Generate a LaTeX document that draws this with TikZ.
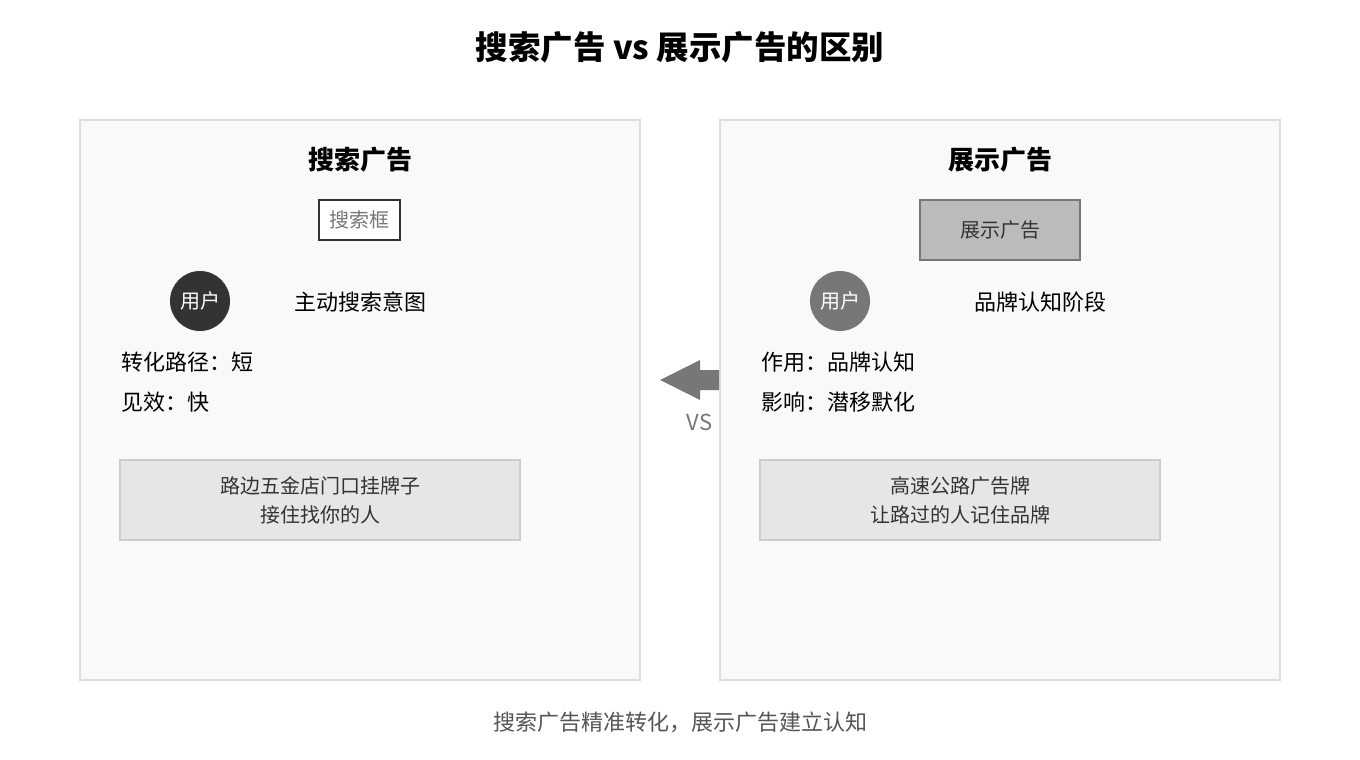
\documentclass[tikz,border=0pt]{standalone}
\usepackage{fontspec}
\setmainfont{Noto Sans CJK SC}
\usetikzlibrary{positioning}

\definecolor{panelfill}{HTML}{F9F9F9}
\definecolor{panelline}{HTML}{DDDDDD}
\definecolor{notefill}{HTML}{E6E6E6}
\definecolor{noteline}{HTML}{CCCCCC}
\definecolor{darkgray}{HTML}{333333}
\definecolor{midgray}{HTML}{777777}
\definecolor{adfill}{HTML}{BBBBBB}
\definecolor{capgray}{HTML}{555555}

\begin{document}
\begin{tikzpicture}[x=1pt,y=-1pt]
	\useasboundingbox[fill=white] (0,0) rectangle (1360,760);

	\node[font=\fontsize{32.5}{38}\selectfont\bfseries] (title) at (680,47) {搜索广告 vs 展示广告的区别};

	% panels
	\begin{scope}[every path/.style={fill=panelfill,draw=panelline,line width=2pt}]
		\path (80,120) rectangle (640,680);
		\path (720,120) rectangle (1280,680);
	\end{scope}

	\begin{scope}[every node/.style={font=\fontsize{22}{26}\selectfont}]
		% left panel
		\node[font=\fontsize{26}{30}\selectfont\bfseries] (searchtitle) at (360,160) {搜索广告};
		\node[draw=darkgray,fill=white,line width=2pt,text=midgray,font=\fontsize{20}{24}\selectfont,
			minimum width=81pt,minimum height=40pt,inner sep=0pt] (searchbox) at (359.5,220) {搜索框};
		\node[circle,fill=darkgray,text=white,minimum size=60pt,inner sep=0pt,font=\fontsize{20}{24}\selectfont] (user1) at (200,301) {用户};
		\node (intent) at (360,302) {主动搜索意图};
		\node[anchor=west] (path1) at (117.5,362) {转化路径：短};
		\node[anchor=west] (speed1) at (117.5,402) {见效：快};
		\node[draw=noteline,fill=notefill,line width=2pt,text=darkgray,font=\fontsize{20}{29}\selectfont,
			minimum width=400pt,minimum height=80pt,inner sep=0pt,align=center] (shopsign) at (320,500)
			{路边五金店门口挂牌子\\接住找你的人};

		% right panel
		\node[font=\fontsize{26}{30}\selectfont\bfseries] (displaytitle) at (1000,160) {展示广告};
		\node[draw=midgray,fill=adfill,line width=2pt,text=darkgray,font=\fontsize{20}{24}\selectfont,
			minimum width=160pt,minimum height=60pt,inner sep=0pt] (adbox) at (1000,230) {展示广告};
		\node[circle,fill=midgray,text=white,minimum size=60pt,inner sep=0pt,font=\fontsize{20}{24}\selectfont] (user2) at (840,301) {用户};
		\node (brand) at (1040,302) {品牌认知阶段};
		\node[anchor=west] (role2) at (757.5,362) {作用：品牌认知};
		\node[anchor=west] (effect2) at (757.5,402) {影响：潜移默化};
		\node[draw=noteline,fill=notefill,line width=2pt,text=darkgray,font=\fontsize{20}{29}\selectfont,
			minimum width=400pt,minimum height=80pt,inner sep=0pt,align=center] (billboard) at (960,500)
			{高速公路广告牌\\让路过的人记住品牌};
	\end{scope}

	% vs arrow
	\fill[midgray] (660,380) -- (700,360) -- (700,370) -- (719,370) -- (719,390) -- (700,390) -- (700,400) -- cycle;
	\node[text=midgray,font=\fontsize{22}{26}\selectfont] (vs) at (699.5,422) {VS};

	\node[text=capgray,font=\fontsize{22}{26}\selectfont] (caption) at (680,722) {搜索广告精准转化，展示广告建立认知};
\end{tikzpicture}
\end{document}
